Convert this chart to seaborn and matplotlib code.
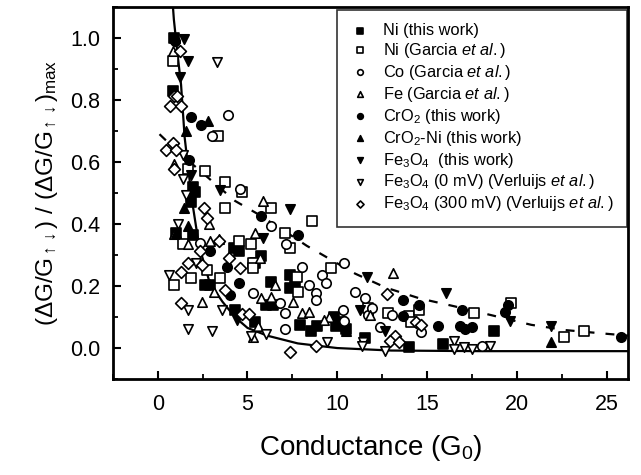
import numpy as np
import pandas as pd
import matplotlib
matplotlib.use("Agg")
import matplotlib.pyplot as plt
import seaborn as sns

# ---------------- data ----------------
ni_tw_x = [0.91, 0.85, 1.99, 2.05, 1.88, 1.02, 1.99, 4.26, 4.55, 5.40, 5.74, 2.61, 2.90, 6.31, 7.39, 7.39,
           7.67, 4.32, 5.40, 6.02, 6.42, 7.95, 8.52, 8.86, 9.83, 9.94, 10.23, 10.51, 11.53, 13.98, 15.91, 18.75]
ni_tw_y = [1.00, 0.83, 0.52, 0.505, 0.47, 0.37, 0.365, 0.324, 0.314, 0.276, 0.298, 0.203, 0.203, 0.213, 0.235, 0.194,
           0.213, 0.124, 0.083, 0.14, 0.14, 0.076, 0.054, 0.07, 0.10, 0.07, 0.083, 0.06, 0.032, 0.003, 0.013, 0.054]

ni_ga_x = [0.85, 3.35, 1.70, 2.61, 3.75, 4.72, 3.75, 6.31, 8.58, 7.10, 7.39, 4.55, 5.17, 1.42, 0.91, 1.88,
           2.73, 3.47, 5.28, 5.28, 9.66, 7.73, 7.84, 11.70, 12.84, 13.98, 14.55, 14.09, 17.61, 19.66, 22.61, 23.75]
ni_ga_y = [0.927, 0.683, 0.578, 0.571, 0.537, 0.505, 0.451, 0.451, 0.41, 0.371, 0.324, 0.346, 0.337, 0.337, 0.203, 0.225,
           0.251, 0.225, 0.273, 0.257, 0.257, 0.229, 0.181, 0.13, 0.114, 0.102, 0.124, 0.083, 0.114, 0.146, 0.035, 0.054]

co_ga_x = [3.92, 3.01, 4.60, 6.31, 7.16, 2.33, 8.01, 9.15, 9.38, 8.41, 8.81, 8.81, 5.28, 6.82, 7.10, 7.10,
           10.40, 10.30, 10.40, 10.97, 11.53, 11.70, 11.93, 13.07, 12.39, 14.66, 18.07]
co_ga_y = [0.752, 0.683, 0.514, 0.394, 0.337, 0.340, 0.260, 0.235, 0.210, 0.203, 0.178, 0.156, 0.178, 0.146, 0.114, 0.060,
           0.273, 0.124, 0.086, 0.181, 0.162, 0.108, 0.130, 0.108, 0.067, 0.051, 0.006]

fe_ga_x = [0.85, 0.91, 0.91, 1.70, 2.84, 2.90, 3.41, 5.40, 5.68, 5.85, 2.44, 3.13, 5.74, 6.31, 6.53, 7.56,
           8.01, 8.41, 9.55, 5.57, 5.28, 13.13, 11.82, 9.26]
fe_ga_y = [0.959, 0.594, 0.368, 0.337, 0.400, 0.346, 0.352, 0.371, 0.292, 0.473, 0.150, 0.181, 0.162, 0.165, 0.203, 0.149,
           0.114, 0.117, 0.100, 0.070, 0.035, 0.241, 0.108, 0.092]

cro2_x = [0.95, 1.88, 2.39, 1.76, 2.90, 3.86, 4.55, 4.03, 5.74, 7.84, 13.64, 14.55, 13.64, 15.63, 16.93, 16.82,
          17.10, 17.50, 19.32, 19.49, 25.8]
cro2_y = [0.99, 0.746, 0.721, 0.606, 0.314, 0.260, 0.210, 0.171, 0.425, 0.365, 0.156, 0.140, 0.102, 0.070, 0.124, 0.070,
          0.060, 0.067, 0.117, 0.140, 0.035]

cro2ni_x = [0.95, 2.78, 1.59, 1.48, 1.70, 1.02, 10.51, 21.88]
cro2ni_y = [1.00, 0.733, 0.70, 0.451, 0.394, 0.371, 0.054, 0.020]

fe3o4_tw_x = [1.48, 1.70, 1.25, 1.88, 3.47, 7.39, 5.85, 4.43, 11.65, 16.08, 11.25, 12.67, 19.60, 21.88]
fe3o4_tw_y = [0.997, 0.927, 0.876, 0.559, 0.511, 0.448, 0.356, 0.092, 0.229, 0.178, 0.124, 0.054, 0.086, 0.070]

fe3o4_0_x = [3.30, 1.42, 1.42, 1.59, 1.14, 0.62, 2.16, 1.70, 3.58, 1.70, 3.01, 5.17, 6.02, 9.43, 11.42, 11.36,
             12.67, 16.48, 16.48, 17.05, 17.50, 18.52]
fe3o4_0_y = [0.924, 0.622, 0.546, 0.495, 0.400, 0.235, 0.276, 0.124, 0.124, 0.060, 0.054, 0.038, 0.044, 0.019, 0.019, 0.006,
             -0.010, 0.022, -0.002, 0.003, -0.002, 0.006]

fe3o4_300_x = [1.25, 0.90, 1.10, 0.70, 1.31, 0.85, 0.45, 1.02, 0.91, 2.56, 2.73, 2.33, 2.44, 1.70, 1.31, 3.41,
               3.98, 4.60, 3.75, 1.31, 4.72, 5.11, 7.39, 8.81, 12.78, 14.38, 14.66, 13.24, 12.95, 13.41]
fe3o4_300_y = [0.959, 0.813, 0.813, 0.781, 0.781, 0.663, 0.638, 0.638, 0.578, 0.451, 0.419, 0.314, 0.267, 0.273, 0.244, 0.346,
               0.289, 0.257, 0.187, 0.146, 0.111, 0.111, -0.013, 0.006, 0.175, 0.083, 0.076, 0.038, 0.022, 0.019]

# guide curves
solid_x = [0.85, 0.90, 1.10, 1.30, 1.50, 1.90, 2.30, 2.90, 3.60, 4.30, 5.00, 6.10, 7.80, 10.0, 13.0, 18.0, 26.2]
solid_y = [1.10, 1.06, 0.95, 0.85, 0.68, 0.48, 0.33, 0.21, 0.15, 0.10, 0.065, 0.04, 0.015, 0.0, -0.008, -0.01, -0.01]
dash_x = [0.10, 1.0, 2.0, 3.0, 4.3, 5.5, 7.0, 8.3, 9.5, 11.0, 12.7, 14.6, 16.5, 18.3, 20.8, 22.7, 24.8, 26.2]
dash_y = [0.69, 0.64, 0.59, 0.54, 0.475, 0.435, 0.38, 0.33, 0.29, 0.24, 0.195, 0.16, 0.135, 0.11, 0.075, 0.058, 0.047, 0.04]

x_ticks = [0, 5, 10, 15, 20, 25]
y_ticks = [0.0, 0.2, 0.4, 0.6, 0.8, 1.0]

# ---------------- style ----------------
sns.set_style("ticks")
plt.rcParams['font.family'] = ['Liberation Sans', 'DejaVu Sans']
plt.rcParams['mathtext.fontset'] = 'custom'
plt.rcParams['mathtext.rm'] = 'Liberation Sans'
plt.rcParams['mathtext.it'] = 'Liberation Sans:italic'
plt.rcParams['mathtext.bf'] = 'Liberation Sans:bold'
for k in ['text.color', 'axes.labelcolor', 'xtick.color', 'ytick.color', 'axes.edgecolor']:
    plt.rcParams[k] = 'black'

fig = plt.figure(figsize=(6.41, 4.75), dpi=100)
ax = fig.add_axes([0.176, 0.202, 0.804, 0.783])

series = [
    (ni_tw_x, ni_tw_y, 's', 'black', 'Ni (this work)'),
    (ni_ga_x, ni_ga_y, 's', 'white', r'Ni (Garcia $et\ al.$)'),
    (co_ga_x, co_ga_y, 'o', 'white', r'Co (Garcia $et\ al.$)'),
    (fe_ga_x, fe_ga_y, '^', 'white', r'Fe (Garcia $et\ al.$)'),
    (cro2_x, cro2_y, 'o', 'black', r'CrO$_2$ (this work)'),
    (cro2ni_x, cro2ni_y, '^', 'black', r'CrO$_2$-Ni (this work)'),
    (fe3o4_tw_x, fe3o4_tw_y, 'v', 'black', r'Fe$_3$O$_4$  (this work)'),
    (fe3o4_0_x, fe3o4_0_y, 'v', 'white', r'Fe$_3$O$_4$ (0 mV) (Verluijs $et\ al.$)'),
    (fe3o4_300_x, fe3o4_300_y, 'D', 'white', r'Fe$_3$O$_4$ (300 mV) (Verluijs $et\ al.$)'),
]

sns.lineplot(x=solid_x, y=solid_y, ax=ax, color='black', lw=1.6, sort=False, estimator=None)
sns.lineplot(x=dash_x, y=dash_y, ax=ax, color='black', lw=1.6, sort=False, estimator=None,
             dashes=False, linestyle=(0, (4.0, 5.0)))

for xs, ys, m, fc, lab in series:
    size = 36 if m == 'D' else 46
    sns.scatterplot(x=xs, y=ys, ax=ax, marker=m, s=size, color=fc, edgecolor='black',
                    linewidth=1.2, label=lab, zorder=3)

ax.set_xlim(-2.5, 26.2)
ax.set_ylim(-0.08, 1.10)
ax.set_xticks(x_ticks)
ax.set_yticks(y_ticks)
ax.set_xticks(np.arange(-2.5, 26.2, 2.5), minor=True)
ax.set_yticks(np.arange(-0.1, 1.1, 0.1), minor=True)
ax.set_yticklabels([f"{v:.1f}" for v in y_ticks])
ax.tick_params(axis='both', which='major', direction='in', length=6, width=1.5, labelsize=15.5)
ax.tick_params(axis='x', which='major', pad=11)
ax.tick_params(axis='y', which='major', pad=9)
ax.tick_params(axis='both', which='minor', direction='in', length=3.5, width=1.3)
for sp in ax.spines.values():
    sp.set_linewidth(2.0)
    sp.set_visible(True)

ax.set_xlabel(r'Conductance (G$_0$)', fontsize=20, labelpad=13)
ax.set_ylabel(r'($\Delta$G/G$_{\uparrow\downarrow}$) / ($\Delta$G/G$_{\uparrow\downarrow}$)$_{\rm max}$',
              fontsize=17.5, labelpad=7)

leg = ax.legend(loc='upper right', bbox_to_anchor=(0.997, 0.993), borderaxespad=0, fontsize=11.8,
                frameon=True, fancybox=False, edgecolor='black', markerscale=0.6,
                labelspacing=0.18, handletextpad=0.8, borderpad=0.8, handlelength=1.2)
leg.get_frame().set_linewidth(1.2)

fig.savefig('out.png', dpi=100)
